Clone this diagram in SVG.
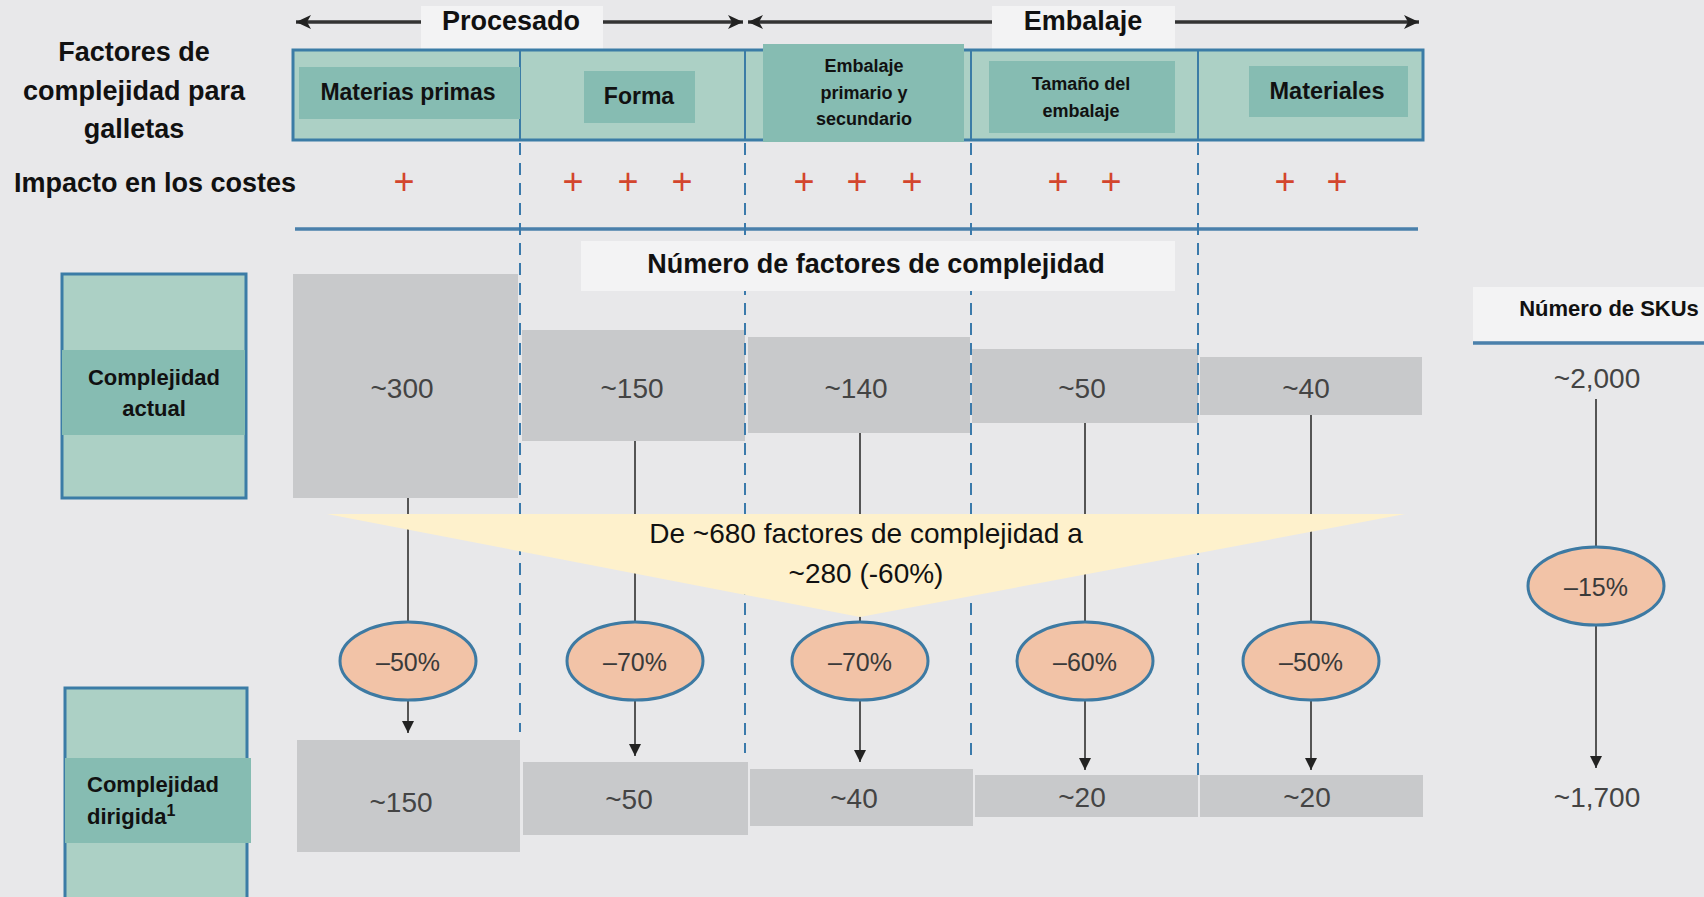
<svg xmlns="http://www.w3.org/2000/svg" width="1704" height="897" viewBox="0 0 1704 897">
<style>
  .t{font-family:"Liberation Sans",Arial,sans-serif;fill:#111;text-anchor:middle}
  .b{font-weight:bold}
  .num{font-family:"Liberation Sans",Arial,sans-serif;font-size:28px;fill:#444;text-anchor:middle}
  .pct{font-family:"Liberation Sans",Arial,sans-serif;font-size:25px;fill:#3a3a3a;text-anchor:middle}
  .plus{font-family:"Liberation Sans",Arial,sans-serif;font-size:36px;fill:#d3452d;text-anchor:middle}
  .gray{fill:#c8c9cb}
  .lbl{fill:#f3f3f4}
  .teal{fill:#acd0c5;stroke:#3b7ca6;stroke-width:3}
  .tealD{fill:#86bcb2}
  .div{stroke:#3b7ca6;stroke-width:2}
  .dash{stroke:#3b7aab;stroke-width:2;stroke-dasharray:12 8;fill:none}
  .conn{stroke:#555;stroke-width:2;fill:none}
  .hdr{stroke:#333;stroke-width:3.5;fill:none}
  .ell{fill:#f2c3a7;stroke:#3d7aa3;stroke-width:3}
  .rule{stroke:#4a80ab;stroke-width:3.5}
</style>
<defs>
  <marker id="ah" markerUnits="userSpaceOnUse" markerWidth="13" markerHeight="13" refX="12" refY="6" orient="auto">
    <path d="M0,0 L12,6 L0,12 z" fill="#222"/>
  </marker>
  <marker id="hh" markerUnits="userSpaceOnUse" markerWidth="16" markerHeight="14" refX="15" refY="7" orient="auto-start-reverse">
    <path d="M0,0 L15,7 L0,14 L4,7 z" fill="#222"/>
  </marker>
</defs>

<rect x="0" y="0" width="1704" height="897" fill="#e8e8ea"/>

<!-- connectors -->
<g id="connectors">
  <line class="hdr" x1="296" y1="22" x2="743" y2="22" marker-start="url(#hh)" marker-end="url(#hh)"/>
  <line class="hdr" x1="748" y1="22" x2="1419" y2="22" marker-start="url(#hh)" marker-end="url(#hh)"/>
  <line class="conn" x1="408" y1="498" x2="408" y2="622"/>
  <line class="conn" x1="408" y1="700" x2="408" y2="733" marker-end="url(#ah)"/>
  <line class="conn" x1="635" y1="441" x2="635" y2="622"/>
  <line class="conn" x1="635" y1="700" x2="635" y2="756" marker-end="url(#ah)"/>
  <line class="conn" x1="860" y1="433" x2="860" y2="622"/>
  <line class="conn" x1="860" y1="700" x2="860" y2="762" marker-end="url(#ah)"/>
  <line class="conn" x1="1085" y1="423" x2="1085" y2="622"/>
  <line class="conn" x1="1085" y1="700" x2="1085" y2="770" marker-end="url(#ah)"/>
  <line class="conn" x1="1311" y1="415" x2="1311" y2="622"/>
  <line class="conn" x1="1311" y1="700" x2="1311" y2="770" marker-end="url(#ah)"/>
  <line class="conn" x1="1596" y1="399" x2="1596" y2="547"/>
  <line class="conn" x1="1596" y1="625" x2="1596" y2="768" marker-end="url(#ah)"/>
</g>

<!-- header labels -->
<g id="header-procesado">
  <rect class="lbl" x="421" y="6" width="182" height="43"/>
  <text class="t b" x="511" y="30" font-size="27">Procesado</text>
</g>
<g id="header-embalaje">
  <rect class="lbl" x="992" y="6" width="183" height="43"/>
  <text class="t b" x="1083" y="30" font-size="27">Embalaje</text>
</g>

<!-- row labels -->
<g id="label-factores">
  <text class="t b" x="134" y="61" font-size="27">Factores de</text>
  <text class="t b" x="134" y="100" font-size="27">complejidad para</text>
  <text class="t b" x="134" y="138" font-size="27">galletas</text>
</g>
<g id="label-impacto">
  <text class="t b" x="155" y="192" font-size="27">Impacto en los costes</text>
</g>

<!-- top bar -->
<g id="top-bar">
  <rect class="teal" x="293" y="50" width="1130" height="90"/>
  <line class="div" x1="520" y1="50" x2="520" y2="141"/>
  <line class="div" x1="745" y1="50" x2="745" y2="141"/>
  <line class="div" x1="971" y1="50" x2="971" y2="141"/>
  <line class="div" x1="1198" y1="50" x2="1198" y2="141"/>
</g>
<g id="factor-materias">
  <rect class="tealD" x="299" y="67" width="221" height="52"/>
  <text class="t b" x="408" y="100" font-size="23">Materias primas</text>
</g>
<g id="factor-forma">
  <rect class="tealD" x="584" y="71" width="111" height="52"/>
  <text class="t b" x="639" y="104" font-size="23">Forma</text>
</g>
<g id="factor-embalaje">
  <rect class="tealD" x="763" y="44" width="201" height="98"/>
  <text class="t b" x="864" y="72" font-size="18">Embalaje</text>
  <text class="t b" x="864" y="99" font-size="18">primario y</text>
  <text class="t b" x="864" y="125" font-size="18">secundario</text>
</g>
<g id="factor-tamano">
  <rect class="tealD" x="989" y="61" width="186" height="72"/>
  <text class="t b" x="1081" y="90" font-size="18">Tamaño del</text>
  <text class="t b" x="1081" y="117" font-size="18">embalaje</text>
</g>
<g id="factor-materiales">
  <rect class="tealD" x="1249" y="66" width="159" height="51"/>
  <text class="t b" x="1327" y="99" font-size="23.5">Materiales</text>
</g>

<!-- cost impact -->
<g id="impact">
  <text class="plus" x="404" y="194">+</text>
  <text class="plus" x="573" y="194">+</text>
  <text class="plus" x="628" y="194">+</text>
  <text class="plus" x="682" y="194">+</text>
  <text class="plus" x="804" y="194">+</text>
  <text class="plus" x="857" y="194">+</text>
  <text class="plus" x="912" y="194">+</text>
  <text class="plus" x="1058" y="194">+</text>
  <text class="plus" x="1111" y="194">+</text>
  <text class="plus" x="1285" y="194">+</text>
  <text class="plus" x="1337" y="194">+</text>
</g>
<line class="rule" x1="295" y1="229" x2="1418" y2="229"/>

<!-- current complexity boxes -->
<g id="current-300"><rect class="gray" x="293" y="274" width="225" height="224"/></g>
<g id="current-150"><rect class="gray" x="522" y="330" width="223" height="111"/></g>
<g id="current-140"><rect class="gray" x="748" y="337" width="222" height="96"/></g>
<g id="current-50"><rect class="gray" x="972" y="349" width="226" height="74"/></g>
<g id="current-40"><rect class="gray" x="1200" y="357" width="222" height="58"/></g>

<!-- target complexity boxes -->
<g id="target-150"><rect class="gray" x="297" y="740" width="223" height="112"/></g>
<g id="target-50"><rect class="gray" x="523" y="762" width="225" height="73"/></g>
<g id="target-40"><rect class="gray" x="750" y="769" width="223" height="57"/></g>
<g id="target-20a"><rect class="gray" x="975" y="775" width="223" height="42"/></g>
<g id="target-20b"><rect class="gray" x="1200" y="775" width="223" height="42"/></g>

<!-- dashed separators -->
<g id="separators">
  <line class="dash" x1="520" y1="143" x2="520" y2="732"/>
  <line class="dash" x1="745" y1="143" x2="745" y2="753"/>
  <line class="dash" x1="971" y1="143" x2="971" y2="757"/>
  <line class="dash" x1="1198" y1="143" x2="1198" y2="775"/>
</g>

<g id="label-numero">
  <rect class="lbl" x="581" y="241" width="594" height="50"/>
  <text class="t b" x="876" y="273" font-size="27">Número de factores de complejidad</text>
</g>

<!-- summary callout -->
<g id="summary">
  <polygon points="327,514 1405,514 860,617" fill="#fef1cc"/>
  <text class="t" x="866" y="543" font-size="28">De ~680 factores de complejidad a</text>
  <text class="t" x="866" y="583" font-size="28">~280 (-60%)</text>
</g>

<!-- values -->
<g id="values">
  <text class="num" x="402" y="398">~300</text>
  <text class="num" x="632" y="398">~150</text>
  <text class="num" x="856" y="398">~140</text>
  <text class="num" x="1082" y="398">~50</text>
  <text class="num" x="1306" y="398">~40</text>
  <text class="num" x="401" y="812">~150</text>
  <text class="num" x="629" y="809">~50</text>
  <text class="num" x="854" y="808">~40</text>
  <text class="num" x="1082" y="807">~20</text>
  <text class="num" x="1307" y="807">~20</text>
</g>

<!-- reductions -->
<g id="red-1"><ellipse class="ell" cx="408" cy="661" rx="68" ry="39"/><text class="pct" x="408" y="671">–50%</text></g>
<g id="red-2"><ellipse class="ell" cx="635" cy="661" rx="68" ry="39"/><text class="pct" x="635" y="671">–70%</text></g>
<g id="red-3"><ellipse class="ell" cx="860" cy="661" rx="68" ry="39"/><text class="pct" x="860" y="671">–70%</text></g>
<g id="red-4"><ellipse class="ell" cx="1085" cy="661" rx="68" ry="39"/><text class="pct" x="1085" y="671">–60%</text></g>
<g id="red-5"><ellipse class="ell" cx="1311" cy="661" rx="68" ry="39"/><text class="pct" x="1311" y="671">–50%</text></g>

<!-- SKUs -->
<g id="sku-header">
  <rect class="lbl" x="1473" y="287" width="231" height="54"/>
  <text class="t b" x="1609" y="316" font-size="22">Número de SKUs</text>
  <line class="rule" x1="1473" y1="343" x2="1704" y2="343"/>
</g>
<g id="sku-current"><text class="num" x="1597" y="388">~2,000</text></g>
<g id="sku-red"><ellipse class="ell" cx="1596" cy="586" rx="68" ry="39"/><text class="pct" x="1596" y="596">–15%</text></g>
<g id="sku-target"><text class="num" x="1597" y="807">~1,700</text></g>

<!-- row labels left -->
<g id="complejidad-actual">
  <rect class="teal" x="62" y="274" width="184" height="224"/>
  <rect class="tealD" x="62" y="350" width="183" height="85"/>
  <text class="t b" x="154" y="385" font-size="22">Complejidad</text>
  <text class="t b" x="154" y="416" font-size="22">actual</text>
</g>
<g id="complejidad-dirigida">
  <rect class="teal" x="65" y="688" width="182" height="230"/>
  <rect class="tealD" x="65" y="758" width="186" height="85"/>
  <text class="t b" x="87" y="792" font-size="22" style="text-anchor:start">Complejidad</text>
  <text class="t b" x="87" y="824" font-size="22" style="text-anchor:start">dirigida<tspan font-size="16" dy="-8">1</tspan></text>
</g>
</svg>
